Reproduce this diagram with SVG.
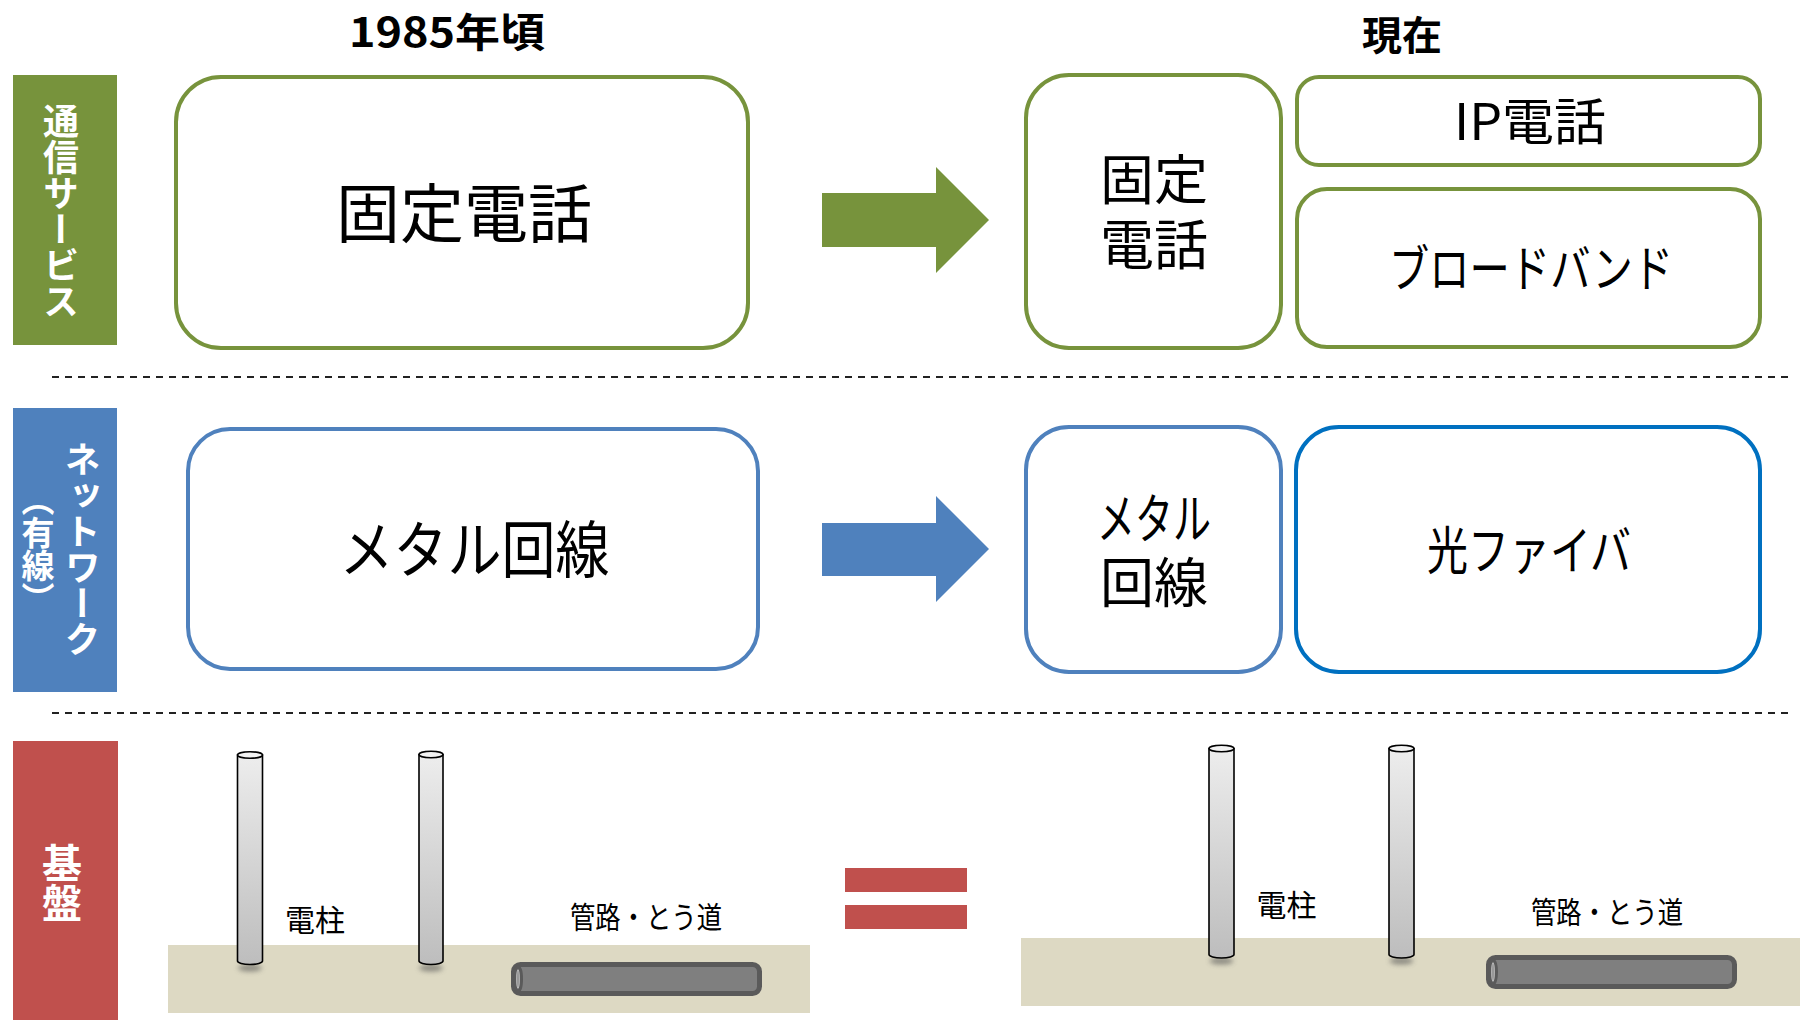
<svg xmlns="http://www.w3.org/2000/svg" width="1800" height="1020" viewBox="0 0 1800 1020">
  <defs>
    <style>
      text { font-family: "Noto Sans CJK JP", "Noto Sans", sans-serif; fill: #000; }
      .head { font-size: 40px; font-weight: bold; text-anchor: middle; }
      .lbl { text-anchor: middle; }
      .side { fill: #fff; font-weight: bold; text-anchor: middle; writing-mode: vertical-rl; }
      .box-g { fill: #fff; stroke: #77933C; stroke-width: 4; }
      .box-b { fill: #fff; stroke: #4F81BD; stroke-width: 4; }
      .box-f { fill: #fff; stroke: #0070C0; stroke-width: 4; }
      .sep { stroke: #222; stroke-width: 2; stroke-dasharray: 7 6; fill: none; }
      .ground { fill: #DDD9C3; }
      .pole { fill: url(#poleGrad); stroke: #000; stroke-width: 1.6; }
      .cap { fill: #F2F2F2; stroke: #000; stroke-width: 1.6; }
      .pipe { fill: #7F7F7F; stroke: #5A5A5A; stroke-width: 5; }
      .small { font-size: 30px; text-anchor: middle; }
    </style>
    <linearGradient id="poleGrad" x1="0" y1="0" x2="0" y2="1">
      <stop offset="0" stop-color="#EDEDED"/>
      <stop offset="1" stop-color="#BDBDBD"/>
    </linearGradient>
    <filter id="soft" x="-50%" y="-200%" width="200%" height="500%">
      <feGaussianBlur stdDeviation="2.5"/>
    </filter>
  </defs>

  <rect width="1800" height="1020" fill="#fff"/>

  <!-- column headings -->
  <text class="head" x="447" y="47" textLength="196" lengthAdjust="spacingAndGlyphs">1985年頃</text>
  <text class="head" x="1402" y="50">現在</text>

  <!-- row labels -->
  <g id="label-service">
    <rect x="13" y="75" width="104" height="270" fill="#77933C"/>
    <text class="side" x="61" y="211" font-size="36">通信サービス</text>
  </g>
  <g id="label-network">
    <rect x="13" y="408" width="104" height="284" fill="#4F81BD"/>
    <text class="side" x="82.5" y="549.5" font-size="36">ネットワーク</text>
    <text class="side" x="38" y="549" font-size="33">（有線）</text>
  </g>
  <g id="label-base">
    <rect x="13" y="741" width="105" height="279" fill="#C0504D"/>
    <text class="side" x="62" y="882.5" font-size="40">基盤</text>
  </g>

  <!-- section separators -->
  <line class="sep" x1="52" y1="377" x2="1792" y2="377"/>
  <line class="sep" x1="52" y1="713" x2="1792" y2="713"/>

  <!-- services -->
  <g id="fixed-phone-1985">
    <rect class="box-g" x="176" y="77" width="572" height="271" rx="45" ry="45"/>
    <text class="lbl" x="464" y="237" font-size="64">固定電話</text>
  </g>
  <g id="fixed-phone-now">
    <rect class="box-g" x="1026" y="75" width="255" height="273" rx="43" ry="43"/>
    <text class="lbl" font-size="54"><tspan x="1154" y="200">固定</tspan><tspan x="1154" y="265">電話</tspan></text>
  </g>
  <g id="ip-phone">
    <rect class="box-g" x="1297" y="77" width="463" height="88" rx="22" ry="22"/>
    <text class="lbl" x="1530" y="140" font-size="50" textLength="152" lengthAdjust="spacingAndGlyphs">IP電話</text>
  </g>
  <g id="broadband">
    <rect class="box-g" x="1297" y="189" width="463" height="158" rx="30" ry="30"/>
    <text class="lbl" x="1531" y="287" font-size="50" textLength="284" lengthAdjust="spacingAndGlyphs">ブロードバンド</text>
  </g>

  <!-- networks -->
  <g id="metal-1985">
    <rect class="box-b" x="188" y="429" width="570" height="240" rx="42" ry="42"/>
    <text class="lbl" x="474.5" y="573" font-size="62" textLength="270" lengthAdjust="spacingAndGlyphs">メタル回線</text>
  </g>
  <g id="metal-now">
    <rect class="box-b" x="1026" y="427" width="255" height="245" rx="43" ry="43"/>
    <text class="lbl" font-size="54"><tspan x="1154" y="538.5" textLength="114" lengthAdjust="spacingAndGlyphs">メタル</tspan><tspan x="1154" y="602.5">回線</tspan></text>
  </g>
  <g id="optical-fiber">
    <rect class="box-f" x="1296" y="427" width="464" height="245" rx="43" ry="43"/>
    <text class="lbl" x="1529" y="570" font-size="52" textLength="204" lengthAdjust="spacingAndGlyphs">光ファイバ</text>
  </g>

  <!-- transitions -->
  <g id="connectors">
    <polygon points="822,193 936,193 936,167 989,220 936,273 936,247 822,247" fill="#77933C"/>
    <polygon points="822,523 936,523 936,496 989,549 936,602 936,576 822,576" fill="#4F81BD"/>
  </g>

  <!-- infrastructure, 1985 -->
  <g id="infra-1985">
    <rect class="ground" x="168" y="945" width="642" height="68"/>
    <ellipse cx="250" cy="968" rx="12" ry="3.5" fill="#555" opacity="0.6" filter="url(#soft)"/>
    <path class="pole" d="M237.5,755 V961 A12.5,3.5 0 0 0 262.5,961 V755 Z"/>
    <ellipse class="cap" cx="250" cy="755" rx="12.5" ry="3.2"/>
    <ellipse cx="431" cy="968" rx="12" ry="3.5" fill="#555" opacity="0.6" filter="url(#soft)"/>
    <path class="pole" d="M419,754.5 V961 A12,3.5 0 0 0 443,961 V754.5 Z"/>
    <ellipse class="cap" cx="431" cy="754.5" rx="12" ry="3.2"/>
    <text class="small" x="315" y="931">電柱</text>
    <text class="small" x="646" y="927.5" textLength="152" lengthAdjust="spacingAndGlyphs">管路・とう道</text>
    <rect class="pipe" x="513.5" y="964.5" width="246" height="29" rx="7" ry="7"/>
    <ellipse cx="518" cy="979" rx="3.5" ry="12" fill="#7F7F7F" stroke="#5A5A5A" stroke-width="3"/>
    <ellipse cx="518" cy="979" rx="1.2" ry="9" fill="none" stroke="#BDBDBD" stroke-width="1.2"/>
  </g>

  <!-- equivalence -->
  <g id="equals">
    <rect x="845" y="868" width="122" height="24" fill="#C0504D"/>
    <rect x="845" y="905" width="122" height="24" fill="#C0504D"/>
  </g>

  <!-- infrastructure, now -->
  <g id="infra-now">
    <rect class="ground" x="1021" y="938" width="779" height="68"/>
    <ellipse cx="1221.5" cy="961" rx="12" ry="3.5" fill="#555" opacity="0.6" filter="url(#soft)"/>
    <path class="pole" d="M1209,748.5 V954.5 A12.5,3.5 0 0 0 1234,954.5 V748.5 Z"/>
    <ellipse class="cap" cx="1221.5" cy="748.5" rx="12.5" ry="3.2"/>
    <ellipse cx="1401.5" cy="961" rx="12" ry="3.5" fill="#555" opacity="0.6" filter="url(#soft)"/>
    <path class="pole" d="M1389,748.5 V954.5 A12.5,3.5 0 0 0 1414,954.5 V748.5 Z"/>
    <ellipse class="cap" cx="1401.5" cy="748.5" rx="12.5" ry="3.2"/>
    <text class="small" x="1286.5" y="916">電柱</text>
    <text class="small" x="1607" y="923" textLength="152" lengthAdjust="spacingAndGlyphs">管路・とう道</text>
    <rect class="pipe" x="1488.5" y="957.5" width="246" height="29" rx="7" ry="7"/>
    <ellipse cx="1493" cy="972" rx="3.5" ry="12" fill="#7F7F7F" stroke="#5A5A5A" stroke-width="3"/>
    <ellipse cx="1493" cy="972" rx="1.2" ry="9" fill="none" stroke="#BDBDBD" stroke-width="1.2"/>
  </g>
</svg>
